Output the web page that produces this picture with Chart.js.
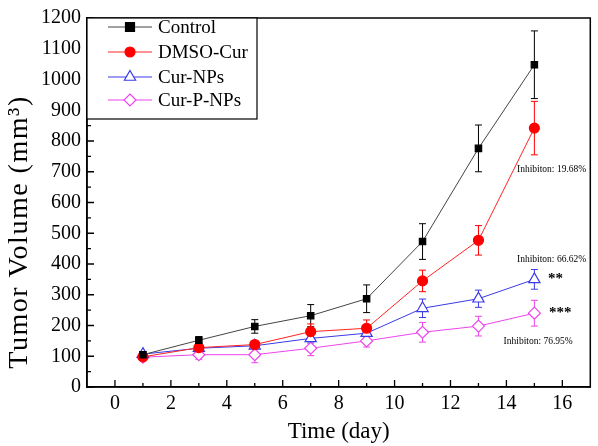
<!DOCTYPE html>
<html>
<head>
<meta charset="utf-8">
<script src="https://cdn.jsdelivr.net/npm/chart.js@4/dist/chart.umd.min.js"></script>
<style>
html,body{margin:0;padding:0;background:#fff;}
#wrap{width:598px;height:446px;position:relative;}
</style>
</head>
<body>
<div id="wrap"><canvas id="c" width="598" height="446"></canvas></div>
<script>
const days = [1, 3, 5, 7, 9, 11, 13, 15];
const seriesNames = ["Control", "DMSO-Cur", "Cur-NPs", "Cur-P-NPs"];
const control = [105, 152, 197, 232, 287, 473, 776, 1048];
const controlErr = [10, 12, 22, 36, 45, 58, 76, 110];
const dmsoCur = [98, 128, 138, 180, 191, 345, 477, 842];
const dmsoCurErr = [8, 10, 12, 25, 27, 35, 48, 87];
const curNPs = [107, 126, 134, 158, 175, 256, 287, 350];
const curNPsErr = [8, 10, 10, 15, 18, 30, 28, 32];
const curPNPs = [97, 105, 105, 126, 150, 178, 198, 240];
const curPNPsErr = [8, 15, 26, 24, 20, 32, 32, 42];
const xTickValues = [0, 2, 4, 6, 8, 10, 12, 14, 16];
const xMinorTicks = [1, 3, 5, 7, 9, 11, 13, 15];
const yTickValues = [0, 100, 200, 300, 400, 500, 600, 700, 800, 900, 1000, 1100, 1200];
const yMinorTicks = [50, 150, 250, 350, 450, 550, 650, 750, 850, 950, 1050, 1150];
const annotations = [
  {text: "Inhibiton: 19.68%", day: 14.38, value: 706, size: 9.5, bold: false},
  {text: "Inhibiton: 66.62%", day: 14.38, value: 415, size: 9.5, bold: false},
  {text: "**", day: 15.49, value: 352, size: 15, bold: true},
  {text: "***", day: 15.52, value: 240, size: 15, bold: true},
  {text: "Inhibiton: 76.95%", day: 13.9, value: 149, size: 9.5, bold: false}
];

const colors = ["#000000", "#ff0000", "#3a3ae6", "#ee44ee"];
const lineColors = ["#444444", "#ff2222", "#3a3ae6", "#ee44ee"];
const values = [control, dmsoCur, curNPs, curPNPs];
const errs = [controlErr, dmsoCurErr, curNPsErr, curPNPsErr];
const styles = [
  {pointStyle: "rect", radius: 4.5, bg: "#000000"},
  {pointStyle: "circle", radius: 5, bg: "#ff0000"},
  {pointStyle: "triangle", radius: 6.5, bg: "#ffffff"},
  {pointStyle: "rectRot", radius: 6, bg: "#ffffff"}
];

const SERIF = "'Liberation Serif','Times New Roman',serif";

function drawMarker(ctx, i, x, y) {
  const r = styles[i].radius;
  ctx.fillStyle = styles[i].bg;
  ctx.strokeStyle = colors[i];
  ctx.lineWidth = 1.2;
  ctx.beginPath();
  if (i === 0) { ctx.rect(x - r, y - r, 2 * r, 2 * r); }
  else if (i === 1) { ctx.arc(x, y, r, 0, Math.PI * 2); }
  else if (i === 2) { ctx.moveTo(x, y - r); ctx.lineTo(x + r * 0.866, y + r * 0.5); ctx.lineTo(x - r * 0.866, y + r * 0.5); ctx.closePath(); }
  else { ctx.moveTo(x, y - r); ctx.lineTo(x + r, y); ctx.lineTo(x, y + r); ctx.lineTo(x - r, y); ctx.closePath(); }
  ctx.fill(); ctx.stroke();
}

const datasets = seriesNames.map((name, i) => ({
  label: name,
  data: days.map((d, j) => ({x: d, y: values[i][j]})),
  borderColor: lineColors[i],
  borderWidth: 1,
  pointStyle: styles[i].pointStyle,
  pointRadius: styles[i].radius,
  pointBackgroundColor: styles[i].bg,
  pointBorderColor: colors[i],
  pointBorderWidth: 1.2,
  tension: 0,
  fill: false
}));

const decor = {
  id: "decor",
  beforeDatasetsDraw(chart) {
    const ctx = chart.ctx;
    const xs = chart.scales.x, ys = chart.scales.y;
    ctx.save();
    values.forEach((vals, i) => {
      ctx.strokeStyle = colors[i];
      ctx.lineWidth = 1;
      vals.forEach((v, j) => {
        const x = xs.getPixelForValue(days[j]);
        const yt = ys.getPixelForValue(v + errs[i][j]);
        const yb = ys.getPixelForValue(v - errs[i][j]);
        ctx.beginPath();
        ctx.moveTo(x, yt); ctx.lineTo(x, yb);
        ctx.moveTo(x - 3.5, yt); ctx.lineTo(x + 3.5, yt);
        ctx.moveTo(x - 3.5, yb); ctx.lineTo(x + 3.5, yb);
        ctx.stroke();
      });
    });
    ctx.restore();
  },
  afterDraw(chart) {
    const ctx = chart.ctx;
    const a = chart.chartArea;
    const xs = chart.scales.x, ys = chart.scales.y;
    ctx.save();
    // frame
    ctx.strokeStyle = "#000";
    ctx.lineWidth = 1.5;
    ctx.strokeRect(a.left, a.top, a.right - a.left, a.bottom - a.top);
    // ticks (inward)
    ctx.lineWidth = 1.3;
    ctx.beginPath();
    xTickValues.forEach(v => { const x = xs.getPixelForValue(v); ctx.moveTo(x, a.bottom); ctx.lineTo(x, a.bottom - 7); });
    xMinorTicks.forEach(v => { const x = xs.getPixelForValue(v); ctx.moveTo(x, a.bottom); ctx.lineTo(x, a.bottom - 4); });
    yTickValues.forEach(v => { const y = ys.getPixelForValue(v); ctx.moveTo(a.left, y); ctx.lineTo(a.left + 7, y); });
    yMinorTicks.forEach(v => { const y = ys.getPixelForValue(v); ctx.moveTo(a.left, y); ctx.lineTo(a.left + 4, y); });
    ctx.stroke();
    // y axis title
    ctx.save();
    ctx.translate(20, 232);
    ctx.rotate(-Math.PI / 2);
    ctx.fillStyle = "#000";
    ctx.font = "28px " + SERIF;
    try { ctx.letterSpacing = "1.5px"; } catch (e) {}
    ctx.textAlign = "center";
    ctx.textBaseline = "middle";
    ctx.fillText("Tumor Volume (mm³)", 0, 0);
    try { ctx.letterSpacing = "0px"; } catch (e) {}
    ctx.restore();
    // annotations
    ctx.fillStyle = "#000";
    ctx.textBaseline = "middle";
    ctx.textAlign = "left";
    annotations.forEach(an => {
      ctx.font = (an.bold ? "bold " : "") + an.size + "px " + SERIF;
      ctx.fillText(an.text, xs.getPixelForValue(an.day), ys.getPixelForValue(an.value));
    });
    // legend
    const lx = a.left, ly = a.top, lw = 170, lh = 101;
    ctx.fillStyle = "#fff";
    ctx.fillRect(lx, ly, lw, lh);
    ctx.strokeStyle = "#000";
    ctx.lineWidth = 1.2;
    ctx.strokeRect(lx, ly, lw, lh);
    const rows = [27, 52, 77, 100];
    seriesNames.forEach((name, i) => {
      const y = rows[i];
      ctx.strokeStyle = lineColors[i];
      ctx.lineWidth = 1;
      ctx.beginPath(); ctx.moveTo(108, y); ctx.lineTo(152, y); ctx.stroke();
      drawMarker(ctx, i, 130, y);
      ctx.fillStyle = "#000";
      ctx.font = "19px " + SERIF;
      ctx.textAlign = "left";
      ctx.textBaseline = "middle";
      ctx.fillText(name, 158, y + 1);
    });
    ctx.restore();
  }
};

new Chart(document.getElementById("c"), {
  type: "line",
  data: {datasets},
  options: {
    responsive: false,
    animation: false,
    devicePixelRatio: 1,
    layout: {padding: {top: 8, right: 1, left: 0, bottom: 0}},
    plugins: {legend: {display: false}, tooltip: {enabled: false}},
    scales: {
      x: {
        type: "linear",
        min: -1,
        max: 17,
        afterBuildTicks: s => { s.ticks = xTickValues.map(v => ({value: v})); },
        afterFit: s => { s.height = 59; },
        grid: {display: true, drawOnChartArea: false, drawTicks: false},
        border: {display: true, color: "#000", width: 1.5},
        ticks: {color: "#000", font: {family: SERIF, size: 20}, padding: 5, maxRotation: 0, autoSkip: false,
                callback: v => String(v)},
        title: {display: true, text: "Time (day)", color: "#000", font: {family: SERIF, size: 23}, padding: {top: 0, bottom: 0}}
      },
      y: {
        min: 0,
        max: 1200,
        afterBuildTicks: s => { s.ticks = yTickValues.map(v => ({value: v})); },
        afterFit: s => { s.width = 87; },
        grid: {display: true, drawOnChartArea: false, drawTicks: false},
        border: {display: true, color: "#000", width: 1.5},
        ticks: {color: "#000", font: {family: SERIF, size: 20}, padding: 6, autoSkip: false,
                callback: v => String(v)},
        title: {display: false}
      }
    }
  },
  plugins: [decor]
});
</script>
</body>
</html>
